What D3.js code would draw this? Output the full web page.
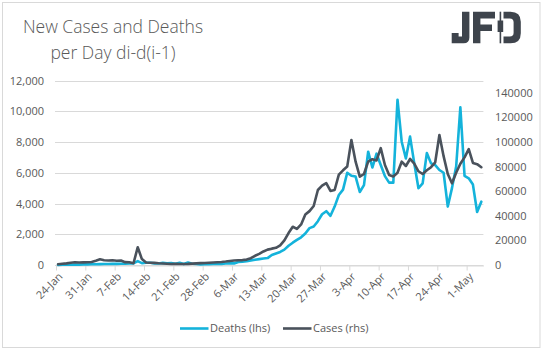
<!DOCTYPE html>
<html><head><meta charset="utf-8">
<script src="https://cdn.jsdelivr.net/npm/d3@7"></script>
<style>
body{margin:0;background:#fff;}
text{font-family:"Open Sans","Segoe UI",sans-serif;}
</style>
</head><body>
<svg id="c" width="543" height="351"></svg>
<script>
const startDate = "2020-01-24";
const endDate = "2020-05-05";
const deaths = [
  8, 16, 15, 24, 26, 26, 38, 43, 46, 45,
  57, 64, 66, 73, 73, 86, 89, 97, 108, 250,
  120, 143, 142, 106, 98, 139, 115, 125, 80, 150,
  60, 160, 79, 63, 37, 56, 58, 72, 87, 75,
  100, 106, 104, 200, 220, 250, 300, 340, 380, 420,
  450, 650, 750, 850, 1000, 1250, 1450, 1630, 1800, 2050,
  2400, 2500, 2850, 3300, 3500, 3200, 3800, 4550, 4900, 6000,
  5800, 5750, 4750, 5200, 7370, 6340, 7240, 6500, 5780, 5360,
  5360, 10750, 8020, 6930, 8350, 6610, 4990, 5310, 7280, 6610,
  6500, 6180, 6000, 3800, 5000, 6400, 10250, 5800, 5640, 5230,
  3450, 4120
];
const cases = [
  600, 1000, 1300, 1800, 2200, 2000, 2100, 2200, 2500, 3500,
  4600, 3900, 3600, 3800, 3500, 3600, 2300, 2200, 1400, 14400,
  4800, 2000, 1800, 1700, 1400, 1200, 1000, 800, 900, 800,
  800, 900, 1100, 1300, 1500, 1600, 1800, 2000, 2200, 2400,
  2800, 3300, 3700, 3900, 4000, 4400, 5500, 7500, 9000, 11000,
  12500, 13300, 14000, 16000, 20000, 26000, 31100, 29300, 33000, 41000,
  43800, 48000, 61000, 64500, 66600, 60200, 61000, 73500, 77000, 80000,
  101600, 84000, 71800, 74000, 84000, 86000, 85000, 95000, 81300, 73200,
  72000, 75000, 84000, 80500, 86200, 82400, 76200, 74000, 77000, 79500,
  83500, 105700, 88500, 74000, 66400, 75000, 82300, 87500, 94200, 83000,
  82000, 79500
];
const leftTicks = [0, 2000, 4000, 6000, 8000, 10000, 12000];
const rightTicks = [0, 20000, 40000, 60000, 80000, 100000, 120000, 140000];
const xTickLabels = ["24-Jan","31-Jan","7-Feb","14-Feb","21-Feb","28-Feb","6-Mar","13-Mar","20-Mar","27-Mar","3-Apr","10-Apr","17-Apr","24-Apr","1-May"];
const seriesNames = ["Deaths (lhs)", "Cases (rhs)"];
const titleLines = ["New Cases and Deaths", "per Day di-d(i-1)"];

const C_DEATHS = "#14b3db", C_CASES = "#4a525c", TXT = "#595959", GRID = "#d9d9d9";

const svg = d3.select("#c");
const iso = d3.utcParse("%Y-%m-%d");
const lab = d3.utcParse("%d-%b-%Y");
const start = iso(startDate);
const dates = deaths.map((_, i) => d3.utcHour.offset(d3.utcDay.offset(start, i), 12));
const tickDates = xTickLabels.map(s => lab(s + "-2020"));

const x = d3.scaleUtc().domain([start, iso(endDate)]).range([56, 483.4]);
const yL = d3.scaleLinear().domain([0, 12000]).range([265, 80.5]);
const yR = d3.scaleLinear().domain([0, 150000]).range([265, 80.5]);

// frame
svg.append("rect").attr("x", 2.5).attr("y", 2.5).attr("width", 537.5).attr("height", 345)
  .attr("fill", "#fff").attr("stroke", GRID).attr("stroke-width", 1);

// title
svg.append("g").selectAll("text").data(titleLines).join("text")
  .attr("x", 113).attr("y", (d, i) => 33 + i * 26)
  .attr("text-anchor", "middle").attr("fill", TXT)
  .attr("font-size", 17.5).attr("font-weight", 300).text(d => d);

// logo
const logo = svg.append("g").attr("fill", "#3e444c");
logo.append("path").attr("d", "M451.7,33 H458.6 V36.4 H462 V11.7 H469.4 V37.5 Q469.4,43.3 463.6,43.3 H451.7 Z");
logo.append("path").attr("d", "M473,11.7 H495 V18.4 H480.4 V24.6 H492 V31 H480.4 V43.3 H473 Z");
logo.append("rect").attr("x", 499.6).attr("y", 11.7).attr("width", 1.6).attr("height", 31.6);
logo.append("rect").attr("x", 497.6).attr("y", 20.5).attr("width", 5.6).attr("height", 11.5);
logo.append("path").attr("d", "M503.5,11.7 H510.5 Q520.8,11.7 520.8,21.8 V33.2 Q520.8,43.3 510.5,43.3 H503.5 V36.6 H509.8 Q513.6,36.6 513.6,32.8 V22.2 Q513.6,18.4 509.8,18.4 H503.5 Z");

// gridlines
svg.append("g").selectAll("line").data(leftTicks).join("line")
  .attr("x1", 55).attr("x2", 483.4)
  .attr("y1", d => Math.round(yL(d)) + 0.5).attr("y2", d => Math.round(yL(d)) + 0.5)
  .attr("stroke", GRID).attr("stroke-width", 1);

// left axis
const gL = svg.append("g").attr("transform", "translate(55,0)")
  .call(d3.axisLeft(yL).tickValues(leftTicks).tickFormat(d3.format(",")).tickSize(0).tickPadding(11));
gL.select(".domain").remove();
gL.selectAll("text").attr("fill", TXT).attr("font-size", 11).attr("font-family", null);

// right axis
const gR = svg.append("g").attr("transform", "translate(483.4,0)")
  .call(d3.axisRight(yR).tickValues(rightTicks).tickFormat(d => String(d)).tickSize(0).tickPadding(11.6));
gR.select(".domain").remove();
gR.selectAll("text").attr("fill", TXT).attr("font-size", 11).attr("font-family", null);

// bottom axis
const gB = svg.append("g").attr("transform", "translate(0,265.5)")
  .call(d3.axisBottom(x).tickValues(tickDates).tickFormat((d, i) => xTickLabels[i]).tickSize(5).tickSizeOuter(0));
gB.select(".domain").attr("stroke", GRID);
gB.selectAll(".tick line").attr("stroke", GRID);
gB.selectAll("text").attr("fill", TXT).attr("font-size", 11).attr("font-family", null)
  .attr("text-anchor", "end").attr("x", 0).attr("y", 0).attr("dy", "0.35em")
  .attr("transform", "translate(4,9) rotate(-45)");

// lines
const lineL = d3.line().x((d, i) => x(dates[i])).y(d => yL(d));
const lineR = d3.line().x((d, i) => x(dates[i])).y(d => yR(d));
svg.append("path").datum(deaths).attr("d", lineL).attr("fill", "none")
  .attr("stroke", C_DEATHS).attr("stroke-width", 2.6).attr("stroke-linejoin", "round").attr("stroke-linecap", "round");
svg.append("path").datum(cases).attr("d", lineR).attr("fill", "none")
  .attr("stroke", C_CASES).attr("stroke-width", 2.6).attr("stroke-linejoin", "round").attr("stroke-linecap", "round");

// legend
const legend = [{name: seriesNames[0], color: C_DEATHS, x: 180}, {name: seriesNames[1], color: C_CASES, x: 283}];
const lg = svg.append("g").selectAll("g").data(legend).join("g")
  .attr("transform", d => `translate(${d.x},328.5)`);
lg.append("line").attr("x1", 0).attr("x2", 28.5).attr("stroke", d => d.color).attr("stroke-width", 2.6);
lg.append("text").attr("x", 30).attr("y", 0).attr("dy", "0.35em").attr("fill", TXT)
  .attr("font-size", 11).text(d => d.name);
</script>
</body></html>
